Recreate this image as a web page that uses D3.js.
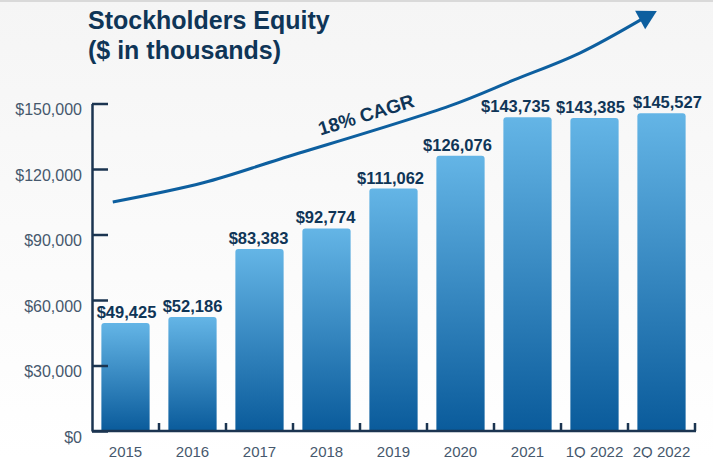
<!DOCTYPE html>
<html>
<head>
<meta charset="utf-8">
<script src="https://cdn.jsdelivr.net/npm/d3@7"></script>
<style>
  html, body { margin: 0; padding: 0; background: #fff; }
  svg { display: block; font-family: "Liberation Sans", Arial, sans-serif; }
</style>
</head>
<body>
<svg id="chart" width="713" height="458"></svg>
<script>
// data
var categories = ["2015", "2016", "2017", "2018", "2019", "2020", "2021", "1Q 2022", "2Q 2022"];
var equity = [49425, 52186, 83383, 92774, 111062, 126076, 143735, 143385, 145527];
var yTicks = [0, 30000, 60000, 90000, 120000, 150000];
// labels on the last bars are nudged apart so they don't collide
var labelShift = [1, 0, -1, -1, -3, -3, -12, -4, 6];
// CAGR arrow guide: [position in category units, value]
var cagrCurve = [[-0.19, 104900], [1.16, 113700], [2.31, 124600], [4.84, 148900], [5.8, 160800], [6.78, 173100], [7.93, 192400]];
var cagrLabel = "18% CAGR";

var navy = "#0f3557";
var svg = d3.select("#chart");
var W = 713, H = 458;

var defs = svg.append("defs");
var bg = defs.append("linearGradient").attr("id", "bg").attr("x1", 0).attr("y1", 0).attr("x2", 0).attr("y2", 1);
bg.append("stop").attr("offset", "0").attr("stop-color", "#f5f5f5");
bg.append("stop").attr("offset", "1").attr("stop-color", "#ffffff");
var bar = defs.append("linearGradient").attr("id", "barGrad").attr("x1", 0).attr("y1", 0).attr("x2", 0).attr("y2", 1);
bar.append("stop").attr("offset", "0").attr("stop-color", "#64b5e6");
bar.append("stop").attr("offset", "1").attr("stop-color", "#0a5b9b");

svg.append("rect").attr("width", W).attr("height", H).attr("fill", "url(#bg)");
svg.append("line").attr("x1", 0).attr("x2", W).attr("y1", 1).attr("y2", 1)
  .attr("stroke", "#d9d9d9").attr("stroke-width", 2);

// title
var title = svg.append("text").attr("fill", navy).attr("font-weight", "bold").attr("font-size", 25);
title.append("tspan").attr("x", 88).attr("y", 28.5).text("Stockholders Equity");
title.append("tspan").attr("x", 88).attr("y", 58.5).text("($ in thousands)");

var x = d3.scaleBand().domain(categories).range([92, 695]).paddingInner(0.28).paddingOuter(0.14);
var y = d3.scaleLinear().domain([0, 150000]).range([431, 103.5]);

// bars with rounded top corners
var r = 3;
svg.append("g").selectAll("path")
  .data(equity)
  .join("path")
  .attr("fill", "url(#barGrad)")
  .attr("d", function(d, i) {
    var x0 = x(categories[i]), w = x.bandwidth(), y0 = y(d), y1 = y(0);
    return "M" + x0 + "," + y1 + "V" + (y0 + r) + "Q" + x0 + "," + y0 + " " + (x0 + r) + "," + y0 +
      "H" + (x0 + w - r) + "Q" + (x0 + w) + "," + y0 + " " + (x0 + w) + "," + (y0 + r) + "V" + y1 + "Z";
  });

// value labels
svg.append("g").selectAll("text")
  .data(equity)
  .join("text")
  .attr("x", function(d, i) { return x(categories[i]) + x.bandwidth() / 2 + labelShift[i]; })
  .attr("y", function(d) { return y(d) - 5; })
  .attr("text-anchor", "middle")
  .attr("font-weight", "bold")
  .attr("font-size", 16.5)
  .attr("fill", navy)
  .text(function(d) { return "$" + d3.format(",")(d); });

// y axis
var yAxis = svg.append("g")
  .attr("transform", "translate(92,0)")
  .call(d3.axisLeft(y).tickValues(yTicks).tickSizeInner(-16).tickSizeOuter(0).tickPadding(10)
    .tickFormat(function(d) { return "$" + d3.format(",")(d); }));
yAxis.select(".domain").attr("stroke", "#1b3450").attr("stroke-width", 2.5);
yAxis.selectAll(".tick line").attr("stroke", "#1b3450").attr("stroke-width", 2.5);
yAxis.selectAll(".tick text")
  .attr("font-size", 16).attr("fill", "#46586d")
  .attr("font-family", "'Liberation Sans', Arial, sans-serif")
  .attr("dy", "0.32em").attr("y", 6);

// x axis
var step = x.step();
var xAxis = svg.append("g").attr("transform", "translate(0,431)");
xAxis.append("line").attr("x1", 92).attr("x2", 695 + 1).attr("stroke", "#1b3450").attr("stroke-width", 2.5);
xAxis.selectAll(".sep")
  .data(categories)
  .join("line")
  .attr("class", "sep")
  .attr("x1", function(d) { return x(d) - x.paddingInner() * step / 2 + step; })
  .attr("x2", function(d) { return x(d) - x.paddingInner() * step / 2 + step; })
  .attr("y1", 0).attr("y2", -8)
  .attr("stroke", "#1b3450").attr("stroke-width", 2.5);
xAxis.selectAll(".lbl")
  .data(categories)
  .join("text")
  .attr("class", "lbl")
  .attr("x", function(d) { return x(d) + x.bandwidth() / 2; })
  .attr("y", 25.5)
  .attr("text-anchor", "middle")
  .attr("font-size", 15)
  .attr("fill", "#46586d")
  .text(function(d) { return d; });

// CAGR arrow
var ux = function(u) { return x(categories[0]) + x.bandwidth() / 2 + u * step; };
var pts = cagrCurve.map(function(p) { return [ux(p[0]), y(p[1])]; });
var last = pts[pts.length - 1], prev = pts[pts.length - 2];
var ang = Math.atan2(last[1] - prev[1], last[0] - prev[0]);
var headLen = 19, headW = 10.5;
var shortEnd = [last[0] - Math.cos(ang) * (headLen - 4), last[1] - Math.sin(ang) * (headLen - 4)];
var linePts = pts.slice(0, -1).concat([shortEnd]);
svg.append("path")
  .attr("d", d3.line().curve(d3.curveCatmullRom)(linePts))
  .attr("fill", "none").attr("stroke", "#0d5f9f").attr("stroke-width", 3);
var bx = last[0] - Math.cos(ang) * headLen, by = last[1] - Math.sin(ang) * headLen;
var nx = -Math.sin(ang), ny = Math.cos(ang);
svg.append("path")
  .attr("d", "M" + last[0] + "," + last[1] +
    "L" + (bx + nx * headW) + "," + (by + ny * headW) +
    "L" + (bx - nx * headW) + "," + (by - ny * headW) + "Z")
  .attr("fill", "#0d5f9f");

svg.append("text")
  .attr("transform", "translate(368,121) rotate(-17)")
  .attr("text-anchor", "middle")
  .attr("font-weight", "bold")
  .attr("font-size", 19)
  .attr("fill", navy)
  .text(cagrLabel);
</script>
</body>
</html>
